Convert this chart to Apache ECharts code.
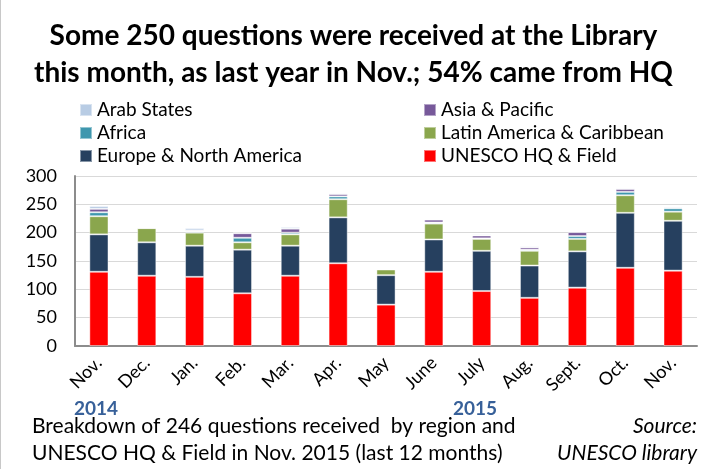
<!DOCTYPE html>
<html>
<head>
    <meta charset="utf-8">
    <title>UNESCO library questions</title>
    <script src="https://cdn.jsdelivr.net/npm/echarts@6/dist/echarts.min.js"></script>
    <style>
        body { margin: 0; background: #fff; }
        #main { width: 706px; height: 469px; box-sizing: border-box; border-left: 1px solid #c8c8c8; }
    </style>
</head>
<body>
    <div id="main"></div>

    <script>
        // months, Nov. 2014 -> Nov. 2015
        var months = ['Nov.', 'Dec.', 'Jan.', 'Feb.', 'Mar.', 'Apr.', 'May', 'June', 'July', 'Aug.', 'Sept.', 'Oct.', 'Nov.'];

        // values per region (stacked bottom to top)
        var hqField = [131, 124, 122, 93, 124, 146, 73, 131, 97, 85, 103, 138, 133];
        var europeNA = [66, 59, 55, 77, 53, 81, 52, 57, 71, 57, 64, 97, 88];
        var latinAm = [32, 25, 23, 13, 20, 32, 10, 28, 21, 26, 22, 31, 16];
        var africa = [7, 0, 2, 8, 3, 5, 0, 2, 1, 2, 5, 6, 6];
        var asiaPac = [6, 1, 2, 8, 7, 4, 0, 5, 5, 4, 7, 5, 2];
        var arabStates = [5, 1, 4, 1, 3, 2, 0, 1, 2, 2, 1, 2, 1];

        var yTicks = [0, 50, 100, 150, 200, 250, 300];

        var font = 'Lato, "Open Sans", sans-serif';

        var myChart = echarts.init(document.getElementById('main'));

        function bar(name, data, color) {
            return {
                name: name,
                type: 'bar',
                stack: 'total',
                barWidth: '40%',
                data: data,
                itemStyle: {
                    color: color,
                    borderColor: 'rgba(255,255,255,0.45)',
                    borderWidth: 1
                }
            };
        }

        var legendText = { fontFamily: font, fontSize: 19, color: '#000', lineHeight: 22 };

        var option = {
            animation: false,
            backgroundColor: '#fff',
            title: {
                text: 'Some 250 questions were received at the Library\nthis month, as last year in Nov.; 54% came from HQ',
                left: 'center',
                top: 12,
                textStyle: {
                    fontFamily: font,
                    fontSize: 28,
                    fontWeight: 'bold',
                    color: '#000',
                    lineHeight: 37
                }
            },
            legend: [{
                data: ['Arab States', 'Africa', 'Europe & North America'],
                orient: 'vertical',
                left: 78,
                top: 99,
                padding: 0,
                itemWidth: 12,
                itemHeight: 12,
                itemGap: 1,
                icon: 'rect',
                textStyle: legendText
            }, {
                data: ['Asia & Pacific', 'Latin America & Caribbean', 'UNESCO HQ & Field'],
                orient: 'vertical',
                left: 422,
                top: 99,
                padding: 0,
                itemWidth: 12,
                itemHeight: 12,
                itemGap: 1,
                icon: 'rect',
                textStyle: legendText
            }],
            grid: {
                left: 74,
                right: 9,
                top: 176,
                bottom: 123,
                containLabel: false
            },
            xAxis: {
                type: 'category',
                data: months,
                axisLine: { lineStyle: { color: '#8c8c8c', width: 2 } },
                axisTick: { show: false },
                axisLabel: {
                    rotate: 45,
                    margin: 14,
                    fontFamily: font,
                    fontSize: 18,
                    color: '#000'
                }
            },
            yAxis: {
                type: 'value',
                min: yTicks[0],
                max: yTicks[yTicks.length - 1],
                interval: 50,
                axisLine: { show: true, lineStyle: { color: '#8c8c8c', width: 2 } },
                axisTick: { show: false },
                splitLine: { lineStyle: { color: '#d9d9d9', width: 1 } },
                axisLabel: {
                    fontFamily: font,
                    fontSize: 18,
                    color: '#000',
                    margin: 18
                }
            },
            graphic: [
                { type: 'text', left: 73, top: 399, style: { text: '2014', font: 'bold 19px ' + font, fill: '#376099' } },
                { type: 'text', left: 452, top: 399, style: { text: '2015', font: 'bold 19px ' + font, fill: '#376099' } },
                { type: 'text', left: 31, top: 416, style: { text: 'Breakdown of 246 questions received  by region and', font: '21px ' + font, fill: '#000' } },
                { type: 'text', left: 31, top: 443, style: { text: 'UNESCO HQ & Field in Nov. 2015 (last 12 months)', font: '21px ' + font, fill: '#000' } },
                { type: 'text', right: 9, top: 416, style: { text: 'Source:', font: 'italic 21px ' + font, fill: '#000', align: 'right' } },
                { type: 'text', right: 9, top: 443, style: { text: 'UNESCO library', font: 'italic 21px ' + font, fill: '#000', align: 'right' } }
            ],
            series: [
                bar('UNESCO HQ & Field', hqField, '#ff0000'),
                bar('Europe & North America', europeNA, '#26405f'),
                bar('Latin America & Caribbean', latinAm, '#8aa64d'),
                bar('Africa', africa, '#3f97ae'),
                bar('Asia & Pacific', asiaPac, '#77599a'),
                bar('Arab States', arabStates, '#b8cce4')
            ]
        };

        myChart.setOption(option);
    </script>
</body>
</html>
